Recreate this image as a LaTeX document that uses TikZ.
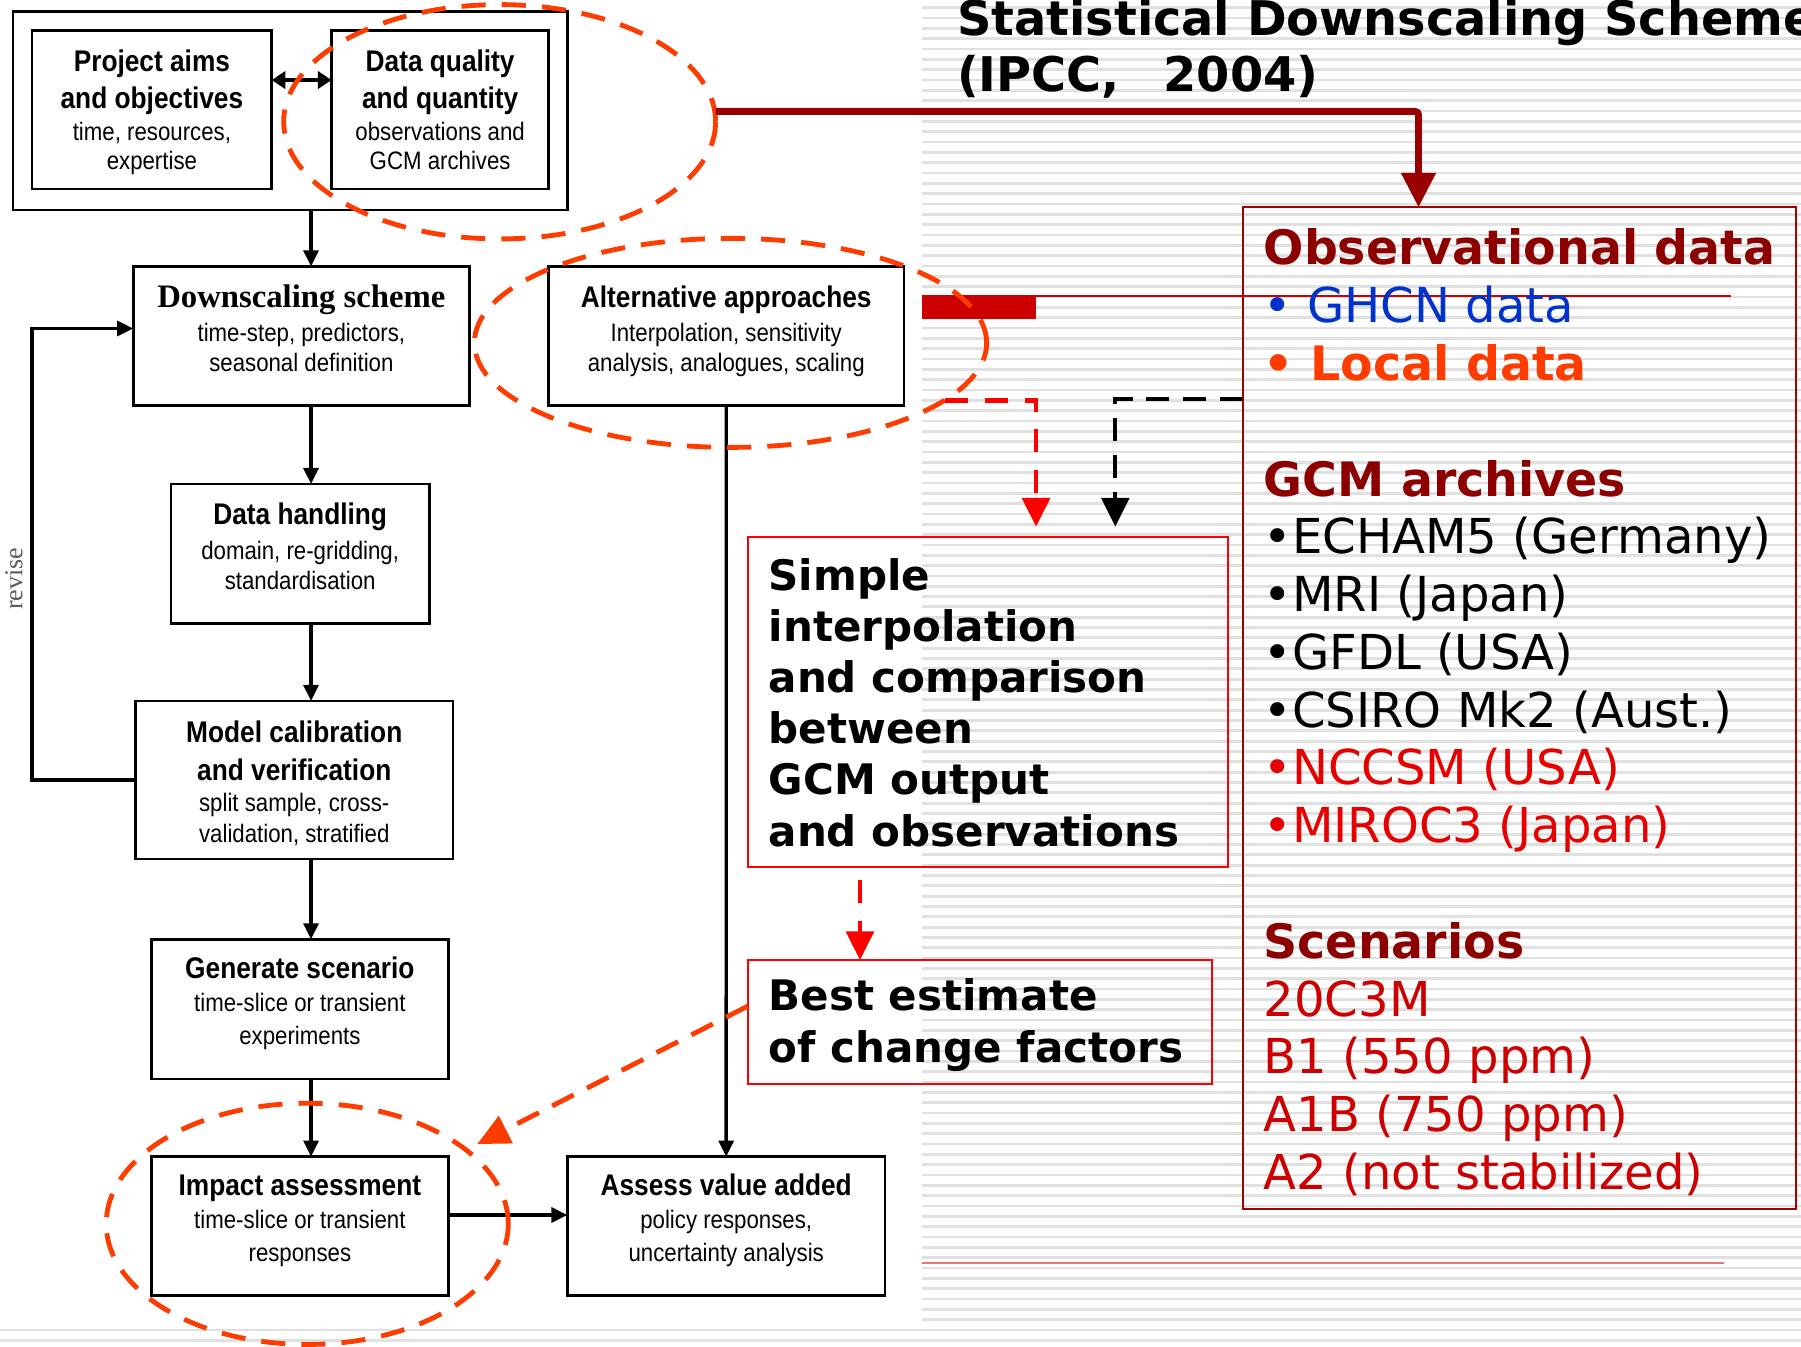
\documentclass[tikz,border=0pt]{standalone}
\usepackage{fontspec}
\usetikzlibrary{arrows.meta,shapes.geometric}
\newfontfamily\vsans{DejaVu Sans}
\newfontfamily\nsans[FakeStretch=0.88]{Liberation Sans}
\newfontfamily\tserif{Liberation Serif}
\definecolor{stripe}{RGB}{224,224,224}
\definecolor{ringc}{RGB}{255,60,0}
\definecolor{headred}{RGB}{140,0,0}
\definecolor{arrred}{RGB}{153,0,0}
\definecolor{boxred}{RGB}{165,0,0}
\definecolor{pured}{RGB}{255,0,0}
\definecolor{modred}{RGB}{230,0,0}
\definecolor{scnred}{RGB}{204,0,0}
\definecolor{ghcnblue}{RGB}{0,51,204}
\definecolor{localor}{RGB}{255,60,0}
\definecolor{barred}{RGB}{204,0,0}
\definecolor{paler}{RGB}{232,120,120}
\definecolor{revgray}{RGB}{90,90,90}
\begin{document}
\begin{tikzpicture}[x=1bp,y=-1bp,
  fbox/.style={draw=black,line width=2.2bp,inner sep=0pt,outer sep=0pt},
  ttl/.style={anchor=base,inner sep=0pt,font=\nsans\bfseries\fontsize{26bp}{30bp}\selectfont},
  serifttl/.style={anchor=base,inner sep=0pt,font=\tserif\bfseries\fontsize{28.5bp}{32bp}\selectfont},
  sub/.style={anchor=base,inner sep=0pt,font=\nsans\fontsize{22bp}{26bp}\selectfont},
  flow/.style={line width=3bp,-{Triangle[length=14bp,width=13bp]}},
  dbl/.style={line width=4bp,{Triangle[length=12bp,width=15bp]}-{Triangle[length=12bp,width=15bp]}},
  ring/.style={ellipse,draw=ringc,line width=4.2bp,dash pattern=on 21bp off 14bp,inner sep=0pt,outer sep=0pt},
  rbox/.style={draw=pured,line width=1.8bp,inner sep=0pt,outer sep=0pt},
  rtxt/.style={anchor=base west,inner sep=0pt,font=\vsans\fontsize{41.9bp}{50bp}\selectfont},
  rhead/.style={anchor=base west,inner sep=0pt,text=headred,font=\vsans\bfseries\fontsize{41.3bp}{50bp}\selectfont},
  btxt/.style={anchor=base west,inner sep=0pt,font=\vsans\bfseries\fontsize{36.6bp}{44bp}\selectfont},
  ttxt/.style={anchor=base west,inner sep=0pt,font=\vsans\bfseries\fontsize{41.6bp}{50bp}\selectfont},
  redd/.style={draw=pured,line width=4bp,dash pattern=on 20bp off 15bp,-{Triangle[length=25bp,width=24bp]},pured},
  blkd/.style={draw=black,line width=3.5bp,dash pattern=on 20bp off 12bp,-{Triangle[length=25bp,width=24bp]}},
  orarr/.style={draw=ringc,line width=4.2bp,dash pattern=on 21bp off 13bp,-{Triangle[length=28bp,width=26bp]},ringc},
  darr/.style={draw=arrred,line width=6bp,rounded corners=3bp,-{Triangle[length=30bp,width=29bp]},arrred}]

% page and striped backdrop
\fill[white] (0,0) rectangle (1568,1172);
\useasboundingbox (0,0) rectangle (1568,1172);
\foreach \k in {0,...,127}
  \draw[stripe,line width=2.4bp] (803,{6.7+8.994*\k}) -- (1568,{6.7+8.994*\k});
\foreach \k in {128,129}
  \draw[stripe,line width=2.4bp] (0,{6.7+8.994*\k}) -- (1568,{6.7+8.994*\k});

% rules across the right half
\fill[barred] (803,257.7) rectangle (902,277.9);
\draw[barred,line width=1.8bp] (803,257.7) -- (1506.8,257.7);
\draw[paler,line width=1.8bp] (803,1099.7) -- (1501,1099.7);

% flowchart boxes
\node[fbox,minimum width=482.8bp,minimum height=172.8bp] (top) at (252.6,96.6) {};
\node[fbox,minimum width=208.5bp,minimum height=137.9bp] (pa) at (132.25,95.65) {};
\node[fbox,minimum width=189bp,minimum height=137.9bp] (dq) at (383.2,95.65) {};
\node[fbox,minimum width=292.8bp,minimum height=121bp] (ds) at (262.4,292.5) {};
\node[fbox,minimum width=309.2bp,minimum height=121bp] (aa) at (632.3,292.5) {};
\node[fbox,minimum width=225.3bp,minimum height=121.3bp] (dh) at (261.35,482.05) {};
\node[fbox,minimum width=276.4bp,minimum height=137.6bp] (mc) at (256.2,679.1) {};
\node[fbox,minimum width=258.6bp,minimum height=121.6bp] (gs) at (261.1,878.6) {};
\node[fbox,minimum width=258.6bp,minimum height=121bp] (ia) at (261.1,1067.5) {};
\node[fbox,minimum width=276.5bp,minimum height=121bp] (av) at (632.25,1067.5) {};

% flowchart texts
\node[ttl] (pa1) at (132.25,62.4) {Project aims};
\node[ttl] (pa2) at (132.25,94.3) {and objectives};
\node[sub] (pa3) at (132.25,121.9) {time, resources,};
\node[sub] (pa4) at (132.25,148) {expertise};
\node[ttl] (dq1) at (383.2,62.4) {Data quality};
\node[ttl] (dq2) at (383.2,94.3) {and quantity};
\node[sub] (dq3) at (383.2,121.9) {observations and};
\node[sub] (dq4) at (383.2,148) {GCM archives};
\node[serifttl] (ds1) at (262.4,268) {Downscaling scheme};
\node[sub] (ds2) at (262.4,297.5) {time-step, predictors,};
\node[sub] (ds3) at (262.4,323.6) {seasonal definition};
\node[ttl] (aa1) at (632.3,268) {Alternative approaches};
\node[sub] (aa2) at (632.3,297.5) {Interpolation, sensitivity};
\node[sub] (aa3) at (632.3,323.6) {analysis, analogues, scaling};
\node[ttl] (dh1) at (261.35,457) {Data handling};
\node[sub] (dh2) at (261.35,487) {domain, re-gridding,};
\node[sub] (dh3) at (261.35,513) {standardisation};
\node[ttl] (mc1) at (256.2,646.6) {Model calibration};
\node[ttl] (mc2) at (256.2,679.7) {and verification};
\node[sub] (mc3) at (256.2,706.7) {split sample, cross-};
\node[sub] (mc4) at (256.2,733.7) {validation, stratified};
\node[ttl] (gs1) at (261.1,851.8) {Generate scenario};
\node[sub] (gs2) at (261.1,880.8) {time-slice or transient};
\node[sub] (gs3) at (261.1,909) {experiments};
\node[ttl] (ia1) at (261.1,1040.4) {Impact assessment};
\node[sub] (ia2) at (261.1,1069.4) {time-slice or transient};
\node[sub] (ia3) at (261.1,1098.4) {responses};
\node[ttl] (av1) at (632.25,1040.4) {Assess value added};
\node[sub] (av2) at (632.25,1069.4) {policy responses,};
\node[sub] (av3) at (632.25,1098.4) {uncertainty analysis};
\node[rotate=90,inner sep=0pt,text=revgray,font=\tserif\fontsize{22.6bp}{26bp}\selectfont] (rv) at (12,504) {revise};

% flowchart connectors
\coordinate (spine) at (270.8,0);
\coordinate (rowPA) at (0,69.7);
\coordinate (rowIA) at (0,1057.8);
\coordinate (loopB) at (28,679.1);
\coordinate (loopT) at (28,286);
\draw[dbl] (pa.east |- rowPA) -- (dq.west |- rowPA);
\draw[flow] (top.south -| spine) -- (ds.north -| spine);
\draw[flow] (ds.south -| spine) -- (dh.north -| spine);
\draw[flow] (dh.south -| spine) -- (mc.north -| spine);
\draw[flow] (mc.south -| spine) -- (gs.north -| spine);
\draw[flow] (gs.south -| spine) -- (ia.north -| spine);
\draw[flow] (aa.south) -- (av.north);
\draw[flow] (ia.east |- rowIA) -- (av.west |- rowIA);
\draw[flow] (mc.west) -- (loopB) -- (loopT) -- (ds.west |- loopT);

% highlight rings
\node[ring,minimum width=376bp,minimum height=204bp] (e1) at (435,106) {};
\node[ring,minimum width=446bp,minimum height=182bp] (e2) at (636,298.5) {};
\node[ring,minimum width=350bp,minimum height=210bp] (e3) at (267.5,1065.5) {};

% right-hand boxes
\node[draw=boxred,line width=1.8bp,inner sep=0pt,outer sep=0pt,minimum width=481.7bp,minimum height=872.1bp] (ob) at (1322.85,616.55) {};
\node[rbox,minimum width=418.1bp,minimum height=287bp] (si) at (859.95,611) {};
\node[rbox,minimum width=404.1bp,minimum height=108.2bp] (be) at (852.95,889.9) {};

% title
\node[ttxt] (t1) at (833,30.5) {Statistical Downscaling Scheme};
\node[ttxt] (t2) at (833,79.8) {(IPCC,\hspace{38bp}2004)};

% data sources list
\node[rhead] (o1) at (1100,230.7) {Observational data};
\node[rtxt,text=ghcnblue] (o2) at (1100,281) {• GHCN data};
\node[rhead,text=localor] (o3) at (1100,331.3) {• Local data};
\node[rhead] (g0) at (1100,431.9) {GCM archives};
\node[rtxt] (g1) at (1100,482.2) {•ECHAM5 (Germany)};
\node[rtxt] (g2) at (1100,532.5) {•MRI (Japan)};
\node[rtxt] (g3) at (1100,582.8) {•GFDL (USA)};
\node[rtxt] (g4) at (1100,633.1) {•CSIRO Mk2 (Aust.)};
\node[rtxt,text=modred] (g5) at (1100,683.4) {•NCCSM (USA)};
\node[rtxt,text=modred] (g6) at (1100,733.7) {•MIROC3 (Japan)};
\node[rhead] (s0) at (1100,834.3) {Scenarios};
\node[rtxt,text=scnred] (s1) at (1100,884.6) {20C3M};
\node[rtxt,text=scnred] (s2) at (1100,934.9) {B1 (550 ppm)};
\node[rtxt,text=scnred] (s3) at (1100,985.2) {A1B (750 ppm)};
\node[rtxt,text=scnred] (s4) at (1100,1035.5) {A2 (not stabilized)};

% method boxes text
\node[btxt] (si1) at (669,513.7) {Simple};
\node[btxt] (si2) at (669,558.3) {interpolation};
\node[btxt] (si3) at (669,602.9) {and comparison};
\node[btxt] (si4) at (669,647.5) {between};
\node[btxt] (si5) at (669,692.1) {GCM output};
\node[btxt] (si6) at (669,736.7) {and observations};
\node[btxt] (be1) at (669,880) {Best estimate};
\node[btxt] (be2) at (669,925) {of change factors};

% links between the halves
\coordinate (rowTop) at (0,97);
\coordinate (colObs) at (1235,0);
\coordinate (colR) at (902,0);
\coordinate (colB) at (971,0);
\coordinate (rowDash) at (0,347);
\coordinate (colS) at (748.7,0);
\coordinate (rowBE) at (0,876);
\draw[darr] (e1.east |- rowTop) -| (ob.north -| colObs);
\draw[redd,shorten >=9bp] (e2.-15) -| (si.north -| colR);
\draw[blkd,shorten >=9bp] (ob.west |- rowDash) -| (si.north -| colB);
\draw[redd,shorten <=12bp] (si.south -| colS) -- (be.north -| colS);
\draw[orarr,shorten >=11bp] (be.west |- rowBE) -- (e3.25);
\end{tikzpicture}
\end{document}
